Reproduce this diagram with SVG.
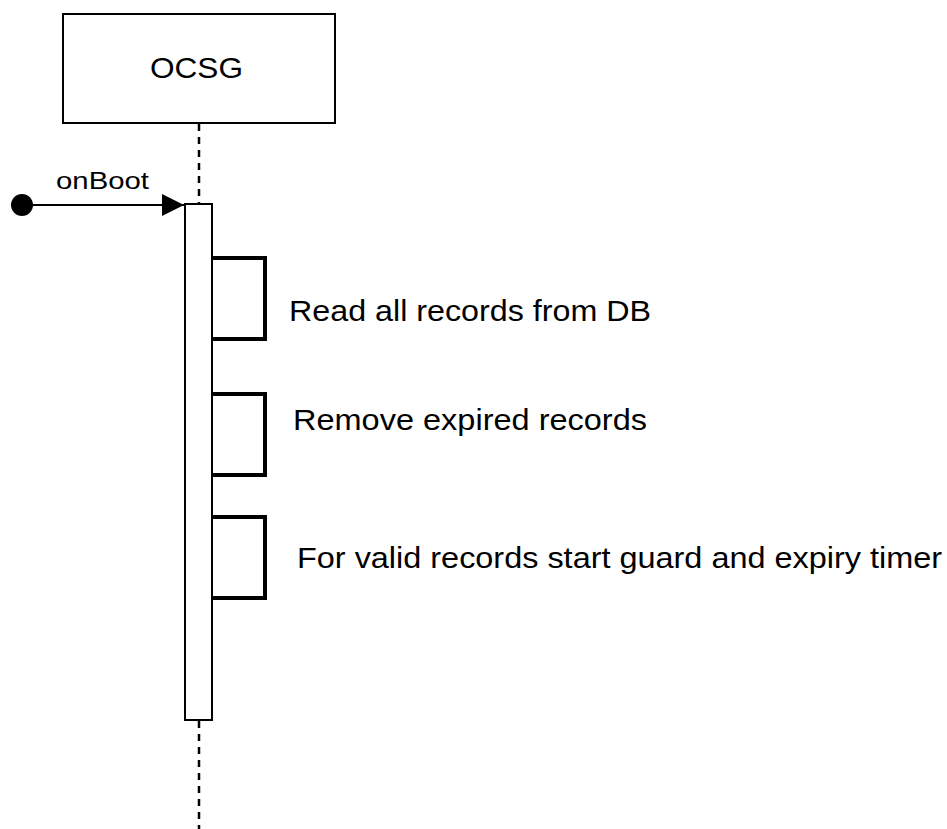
<svg xmlns="http://www.w3.org/2000/svg" width="947" height="829" viewBox="0 0 947 829">
<style>
text{font-family:"Liberation Sans",Arial,sans-serif;fill:#000}
.box{fill:#fff;stroke:#000;stroke-width:2}
.life{stroke:#000;stroke-width:2.5;stroke-dasharray:7 6;fill:none}
.loop{fill:none;stroke:#000;stroke-width:4}
.lbl{font-size:29px}
</style>
<defs>
<marker id="arr" viewBox="0 0 10 10" refX="10" refY="5" markerWidth="22" markerHeight="22" markerUnits="userSpaceOnUse" orient="auto"><path d="M0,0L10,5L0,10z" fill="#000"/></marker>
</defs>
<g id="lifeline">
<line class="life" x1="199" y1="124" x2="199" y2="204"/>
<line class="life" x1="199" y1="721" x2="199" y2="829"/>
</g>
<g id="ocsg">
<rect class="box" x="63" y="14" width="272" height="109"/>
<text x="150" y="78" class="lbl" textLength="93" lengthAdjust="spacingAndGlyphs">OCSG</text>
</g>
<g id="activation">
<rect class="box" x="185" y="204" width="27" height="516"/>
</g>
<g id="connectors">
<circle cx="22" cy="205" r="11" fill="#000"/>
<line x1="22" y1="205" x2="184" y2="205" stroke="#000" stroke-width="2" marker-end="url(#arr)"/>
<text x="56" y="189" font-size="23" textLength="93" lengthAdjust="spacingAndGlyphs">onBoot</text>
<path class="loop" d="M212,258H265V339H212"/>
<path class="loop" d="M212,394H265V475H212"/>
<path class="loop" d="M212,517H265V598H212"/>
</g>
<g id="labels">
<text x="289" y="321" class="lbl" textLength="362" lengthAdjust="spacingAndGlyphs">Read all records from DB</text>
<text x="293" y="430" class="lbl" textLength="354" lengthAdjust="spacingAndGlyphs">Remove expired records</text>
<text x="297" y="568" class="lbl" textLength="645" lengthAdjust="spacingAndGlyphs">For valid records start guard and expiry timer</text>
</g>
</svg>
